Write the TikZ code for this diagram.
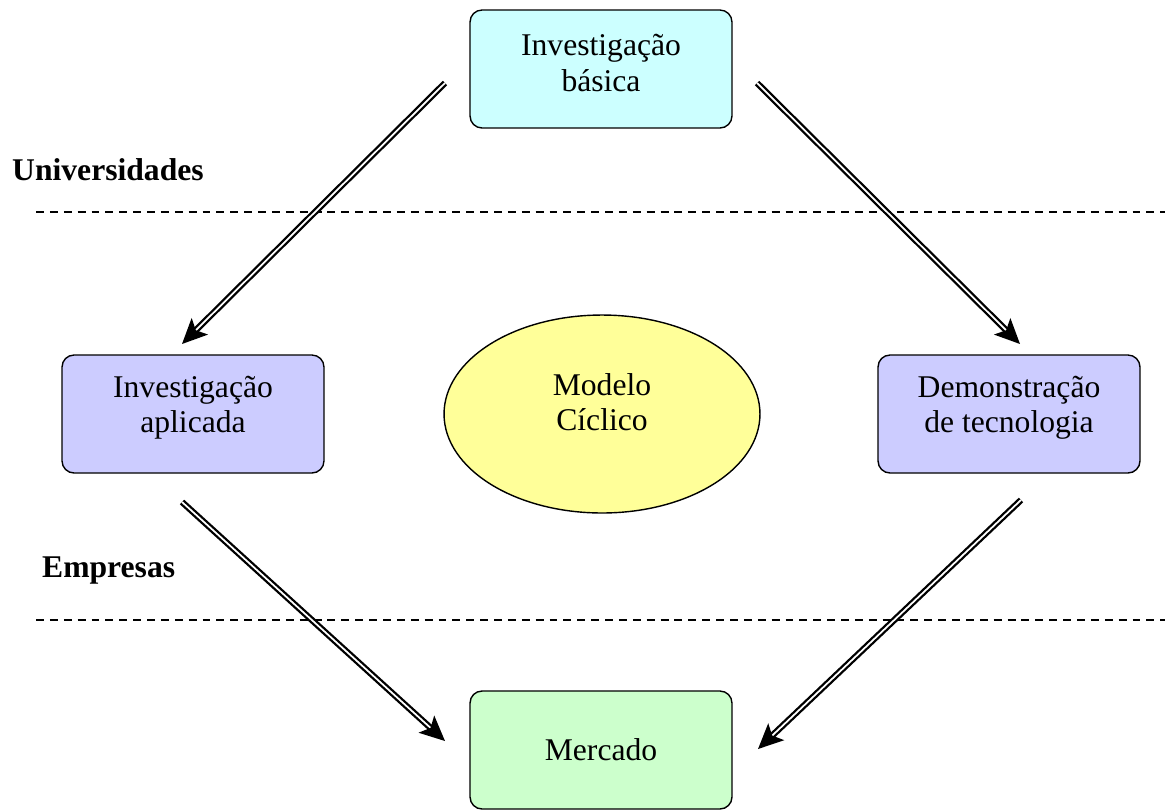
\documentclass[tikz,border=0pt]{standalone}
\usepackage{fontspec}
\setmainfont{Liberation Serif}
\usetikzlibrary{arrows.meta,shapes.geometric}
\definecolor{cyanbox}{RGB}{204,255,255}
\definecolor{violetbox}{RGB}{204,204,255}
\definecolor{greenbox}{RGB}{204,255,204}
\definecolor{yellowell}{RGB}{255,255,153}
\begin{document}
\begin{tikzpicture}[x=0.02cm, y=-0.02cm,
  box/.style={draw=black, line width=0.8pt, rounded corners=0.24cm,
    minimum width=5.24cm, minimum height=2.36cm},
  txt/.style={align=center, inner sep=0pt, font=\fontsize{18}{20}\selectfont},
  flow/.style={draw=black, line width=1.3pt, double=white, double distance=1.0pt,
    -{Stealth[length=0.5cm, width=0.46cm, inset=0.11cm]}},
  layer/.style={font=\bfseries\fontsize{18}{20}\selectfont, anchor=west},
  divider/.style={line width=0.6pt, dash pattern=on 4.5pt off 3.4pt}]
  \useasboundingbox (0,0) rectangle (1165,809);

  % stages of the cycle
  \node[box, fill=cyanbox]   (basic)   at (601,69)   {};
  \node[box, fill=violetbox] (applied) at (193,414)  {};
  \node[box, fill=violetbox] (demo)    at (1009,414) {};
  \node[box, fill=greenbox]  (market)  at (601,750)  {};
  \node[draw=black, line width=0.8pt, fill=yellowell, ellipse,
    minimum width=6.32cm, minimum height=3.96cm] (model) at (602,414) {};

  % stage names
  \node[txt] (basicT)   at (601,63)   {Investigação\\básica};
  \node[txt] (appliedT) at (193,408)  {Investigação\\aplicada};
  \node[txt] (demoT)    at (1009,408) {Demonstração\\de tecnologia};
  \node[txt] (marketT)  at (601,750)  {Mercado};
  \node[txt] (modelT)   at (602,402)  {Modelo\\Cíclico};

  % layer labels and boundaries
  \node[layer] (uni) at (6,170) {Universidades};
  \node[layer] (emp) at (36,570) {Empresas};
  \coordinate (d1a) at (36,212);  \coordinate (d1b) at (1165,212);
  \coordinate (d2a) at (36,620);  \coordinate (d2b) at (1165,620);
  \draw[divider] (d1a) -- (d1b);
  \draw[divider] (d2a) -- (d2b);

  % arrow end points
  \coordinate (a1s) at (445,83);   \coordinate (a1e) at (182,344);
  \coordinate (a2s) at (757,83);   \coordinate (a2e) at (1020,344);
  \coordinate (a3s) at (182,502);  \coordinate (a3e) at (445,741);
  \coordinate (a4s) at (1021,500); \coordinate (a4e) at (758,749);
  \draw[flow] (a1s) -- (a1e);
  \draw[flow] (a2s) -- (a2e);
  \draw[flow] (a3s) -- (a3e);
  \draw[flow] (a4s) -- (a4e);
\end{tikzpicture}
\end{document}
